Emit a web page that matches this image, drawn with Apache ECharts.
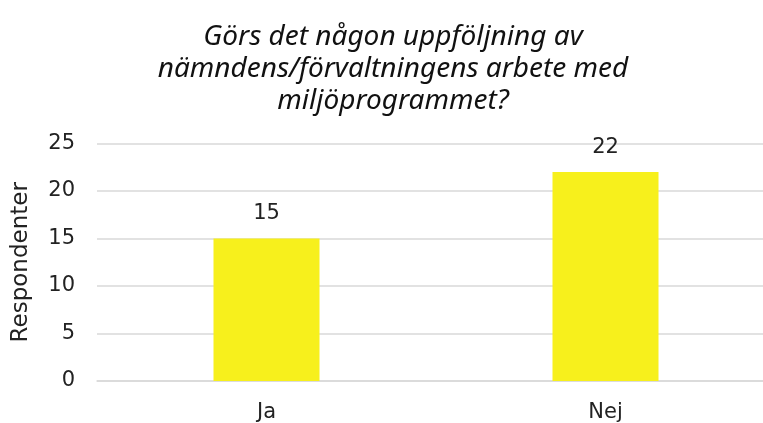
<!DOCTYPE html>
<html>
<head>
<meta charset="utf-8">
<script src="https://cdn.jsdelivr.net/npm/echarts@6/dist/echarts.min.js"></script>
<style>html,body{margin:0;padding:0;background:#fff;overflow:hidden;width:763px;height:423px}#c{width:775px;height:423px}</style>
</head>
<body>
<div id="c"></div>
<script>
const categories = ['Ja', 'Nej'];
const values = [15, 22];
const yTicks = [0, 5, 10, 15, 20, 25];
const titleText = 'Görs det någon uppföljning av\nnämndens/förvaltningens arbete med\nmiljöprogrammet?';
const yName = 'Respondenter';

const chart = echarts.init(document.getElementById('c'));
chart.setOption({
  animation: false,
  backgroundColor: '#ffffff',
  title: {
    text: titleText,
    left: 388,
    top: 16,
    textAlign: 'center',
    textStyle: {
      fontFamily: 'Noto Sans',
      fontStyle: 'italic',
      fontWeight: 'normal',
      fontSize: 28,
      lineHeight: 32,
      color: '#111'
    }
  },
  grid: { left: 97, top: 143.5, right: 0, height: 237.5, containLabel: false },
  xAxis: {
    type: 'category',
    data: categories,
    axisLine: { show: true, lineStyle: { color: '#d9d9d9', width: 1.5 } },
    axisTick: { show: false },
    axisLabel: { fontFamily: 'DejaVu Sans', fontSize: 21, color: '#222', margin: 21 }
  },
  yAxis: {
    type: 'value',
    min: yTicks[0],
    max: yTicks[yTicks.length - 1],
    interval: 5,
    name: yName,
    nameLocation: 'middle',
    nameGap: 64,
    nameTextStyle: { fontFamily: 'DejaVu Sans', fontSize: 23, color: '#222' },
    axisLine: { show: false },
    axisTick: { show: false },
    axisLabel: { fontFamily: 'DejaVu Sans', fontSize: 21, color: '#222', margin: 22 },
    splitLine: { lineStyle: { color: '#d9d9d9', width: 1.5 } }
  },
  series: [{
    type: 'bar',
    data: values,
    barWidth: 106,
    itemStyle: { color: '#f7f01c' },
    label: {
      show: true,
      position: 'top',
      distance: 14,
      fontFamily: 'DejaVu Sans',
      fontSize: 21,
      color: '#222'
    }
  }]
});
</script>
</body>
</html>
